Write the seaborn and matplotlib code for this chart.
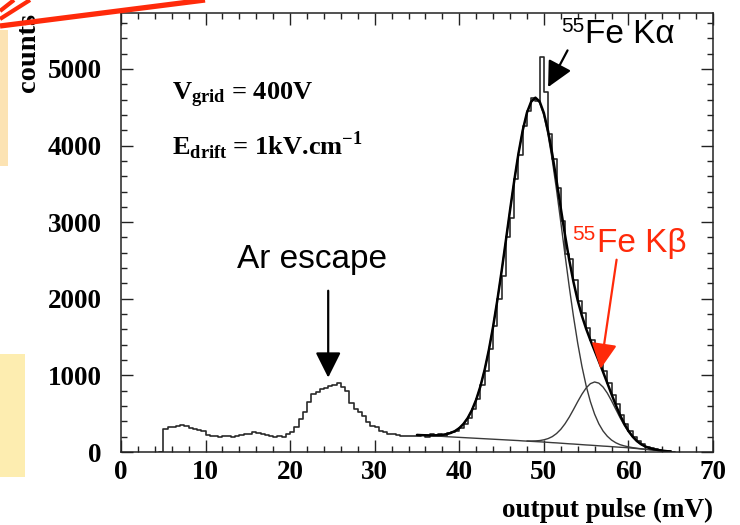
import numpy as np
import pandas as pd
import matplotlib
matplotlib.use("Agg")
import matplotlib.pyplot as plt
import seaborn as sns
from matplotlib.patches import Rectangle
from matplotlib.lines import Line2D
from matplotlib.ticker import MultipleLocator

# ---------------- data ----------------
# histogram: 0.5 mV bins starting at 5.0 mV
hist_start_mv = 5.0
hist_bin_mv = 0.5
hist_counts = [
    300, 320, 330, 335, 350, 340, 315, 300, 285, 270,   # 5-10
    225, 215, 205, 200, 215, 205, 200, 210, 225, 230,   # 10-15
    240, 260, 245, 230, 225, 205, 200, 210, 200, 230,   # 15-20
    260, 320, 430, 520, 650, 760, 785, 820, 830, 855,   # 20-25
    880, 905, 850, 790, 640, 560, 520, 470, 390, 340,   # 25-30
    320, 280, 260, 240, 230, 225, 210, 210, 215, 205,   # 30-35
    215, 225, 200, 230, 225, 240, 215, 245, 260, 275,   # 35-40
    310, 370, 440, 560, 690, 870, 1060, 1350, 1640, 2000,  # 40-45
    2300, 2800, 3050, 3560, 3880, 4250, 4450, 4620, 4580, 5150,  # 45-50
    4700, 4150, 3830, 3450, 3010, 2580, 2520, 2250, 1970, 1820,  # 50-55
    1620, 1460, 1300, 1180, 1060, 900, 740, 620, 480, 370,  # 55-60
    280, 200, 140, 100, 70, 50, 35, 25, 15, 10,   # 60-65
]

# fitted curves, sampled every 0.5 mV from 35 to 65 mV
fit_start_mv = 35.0
fit_step_mv = 0.5
background_fit = [
    222, 219, 216, 213, 210, 207, 204, 200, 197, 194,
    191, 188, 185, 182, 179, 176, 173, 170, 167, 164,
    161, 158, 155, 152, 149, 145, 142, 139, 136, 133,
    130, 126, 122, 119, 115, 111, 107, 104, 100, 96,
    92, 89, 85, 81, 77, 74, 70, 66, 62, 59,
    55, 50, 45, 40, 35, 30, 25, 20, 15, 10, 5,
]
kalpha_fit = [
    223, 220, 218, 217, 217, 219, 224, 233, 249, 274,
    312, 367, 444, 548, 684, 858, 1074, 1334, 1638, 1982,
    2357, 2754, 3155, 3543, 3898, 4198, 4427, 4569, 4616, 4559,
    4396, 4140, 3807, 3421, 3002, 2575, 2158, 1771, 1422, 1119,
    864, 658, 494, 368, 274, 206, 156, 121, 96, 80,
    67, 57, 49, 42, 36, 31, 25, 20, 15, 10, 5,
]
kbeta_fit = [
    None, None, None, None, None, None, None, None, None, None,
    None, None, None, None, None, None, None, None, None, None,
    None, None, None, None, None, None, 144, 143, 145, 149,
    159, 175, 201, 241, 296, 368, 455, 554, 657, 754,
    836, 892, 914, 899, 848, 769, 669, 559, 450, 350,
    264, 194, 139, 99, 71, 50, 36, 26, 18, 11, 6,
]
total_fit = [
    223, 220, 218, 217, 217, 219, 224, 233, 249, 274,
    312, 367, 444, 548, 684, 858, 1074, 1334, 1638, 1982,
    2357, 2754, 3155, 3543, 3898, 4198, 4429, 4573, 4625, 4575,
    4425, 4189, 3886, 3543, 3183, 2832, 2506, 2221, 1979, 1777,
    1608, 1461, 1323, 1186, 1045, 901, 755, 614, 484, 371,
    276, 201, 143, 101, 72, 51, 36, 26, 18, 11, 6,
]

x_ticks = [0, 10, 20, 30, 40, 50, 60, 70]
y_ticks = [0, 1000, 2000, 3000, 4000, 5000]
x_label = "output pulse (mV)"
y_label = "counts"
label_vgrid = r"$\mathbf{V_{grid}}$ = 400V"
label_edrift = r"$\mathbf{E_{drift}}$ = 1kV.cm$^{\mathbf{-1}}$"

# ---------------- style ----------------
sns.set_theme(style="ticks")
plt.rcParams["font.family"] = ["Liberation Serif", "DejaVu Serif"]
plt.rcParams["mathtext.fontset"] = "custom"
plt.rcParams["mathtext.bf"] = "Liberation Serif:bold"
plt.rcParams["mathtext.rm"] = "Liberation Serif:bold"
plt.rcParams["axes.linewidth"] = 1.1
plt.rcParams["text.color"] = "black"
plt.rcParams["axes.labelcolor"] = "black"
plt.rcParams["xtick.color"] = "black"
plt.rcParams["ytick.color"] = "black"

W, H = 740, 525
fig = plt.figure(figsize=(W / 100, H / 100), dpi=100)
fig.patch.set_facecolor("white")
ax = fig.add_axes([121 / W, 1 - 452 / H, (713 - 121) / W, (452 - 13) / H])

# slide decorations (outside the plot)
fig.add_artist(Rectangle((0, 1 - 166 / H), 7.5 / W, 136 / H, transform=fig.transFigure,
                         facecolor="#FCE3B3", edgecolor="none", zorder=0))
fig.add_artist(Rectangle((0, 1 - 477 / H), 25 / W, 123 / H, transform=fig.transFigure,
                         facecolor="#FDEDB0", edgecolor="none", zorder=0))
red = "#FF2A0A"
for (x0, y0, x1, y1, lw) in [(0, 11, 14, 0, 3.0), (0, 19, 30, 0, 3.0), (0, 26, 205, 0, 3.8)]:
    fig.add_artist(Line2D([x0 / W, x1 / W], [1 - y0 / H, 1 - y1 / H], transform=fig.transFigure,
                          color=red, lw=lw, solid_capstyle="butt", zorder=10))

# histogram
n = len(hist_counts)
edges = hist_start_mv + hist_bin_mv * np.arange(-1, n + 2)
hist_df = pd.DataFrame({
    "x": (edges[:-1] + edges[1:]) / 2,
    "w": np.concatenate([[0.0], np.asarray(hist_counts, dtype=float), [0.0]]),
})
sns.histplot(data=hist_df, x="x", weights="w", bins=[float(e) for e in edges],
             element="step", fill=False, color="#2a2a2a", linewidth=1.2, ax=ax)

# fits
fx = fit_start_mv + fit_step_mv * np.arange(len(total_fit))
fits = pd.DataFrame({"x": fx, "bg": background_fit, "ka": kalpha_fit,
                     "kb": [np.nan if v is None else float(v) for v in kbeta_fit],
                     "tot": total_fit})
sns.lineplot(data=fits, x="x", y="bg", color="#3a3a3a", lw=1.0, ax=ax, estimator=None, sort=False)
sns.lineplot(data=fits, x="x", y="ka", color="#3a3a3a", lw=1.0, ax=ax, estimator=None, sort=False)
kbd = fits.dropna(subset=["kb"])
sns.lineplot(data=kbd, x="x", y="kb", color="#3a3a3a", lw=1.0, ax=ax, estimator=None, sort=False)
sns.lineplot(data=fits, x="x", y="tot", color="black", lw=1.8, ax=ax, estimator=None, sort=False)

ax.set_xlim(0, 70)
ax.set_ylim(0, 5730)
ax.set_xticks(x_ticks)
ax.set_yticks(y_ticks)
ax.xaxis.set_minor_locator(MultipleLocator(2))
ax.yaxis.set_minor_locator(MultipleLocator(200))
ax.tick_params(which="both", direction="in", top=True, right=True, color="#222222", width=1.0)
ax.tick_params(which="major", length=8.5)
ax.tick_params(which="minor", length=4.3)
ax.tick_params(axis="y", which="major", pad=14)
ax.tick_params(axis="x", which="major", pad=6)
for lab in ax.get_xticklabels() + ax.get_yticklabels():
    lab.set_fontsize(19.5)
    lab.set_fontweight("bold")
    lab.set_color("black")
for s in ax.spines.values():
    s.set_color("#222222")
ax.grid(False)

ax.set_xlabel(x_label, fontsize=19.5, fontweight="bold", loc="right", color="black")
ax.xaxis.set_label_coords(1.0, -0.105)
ax.set_ylabel(y_label, fontsize=20.5, fontweight="bold", loc="top", color="black")
ax.yaxis.set_label_coords(-0.135, 1.0)

# annotations
ax.text(6.0, 4588, label_vgrid, fontsize=19, fontweight="bold", ha="left", va="baseline", color="black")
ax.text(6.0, 3869, label_edrift, fontsize=19, fontweight="bold", ha="left", va="baseline", color="black")

sans = ["Liberation Sans", "DejaVu Sans"]
ax.text(22.53, 2402, "Ar escape", fontsize=24, family=sans, ha="center", va="baseline", color="black")
ax.annotate("", xy=(24.5, 971), xytext=(24.5, 2105),
            arrowprops=dict(arrowstyle="-|>,head_length=1.0,head_width=0.5", mutation_scale=15.6,
                            color="black", lw=1.6, shrinkA=0, shrinkB=0))

ax.text(52.1, 5481, "55", fontsize=15, family=sans, ha="left", va="baseline", color="black")
ax.text(54.9, 5335, "Fe K\u03b1", fontsize=24, family=sans, ha="left", va="baseline", color="black")
ax.annotate("", xy=(50.5, 4762), xytext=(52.8, 5242),
            arrowprops=dict(arrowstyle="-|>,head_length=1.0,head_width=0.5", mutation_scale=15.6,
                            color="black", lw=1.6, shrinkA=0, shrinkB=0))

ax.text(53.4, 2762, "55", fontsize=15, family=sans, ha="left", va="baseline", color=red)
ax.text(56.3, 2611, "Fe K\u03b2", fontsize=24, family=sans, ha="left", va="baseline", color=red)
ax.annotate("", xy=(56.7, 1085), xytext=(58.6, 2510),
            arrowprops=dict(arrowstyle="-|>,head_length=1.0,head_width=0.5", mutation_scale=15.6,
                            color=red, lw=1.6, shrinkA=0, shrinkB=0))

fig.savefig("out.png", dpi=100, facecolor="white")
